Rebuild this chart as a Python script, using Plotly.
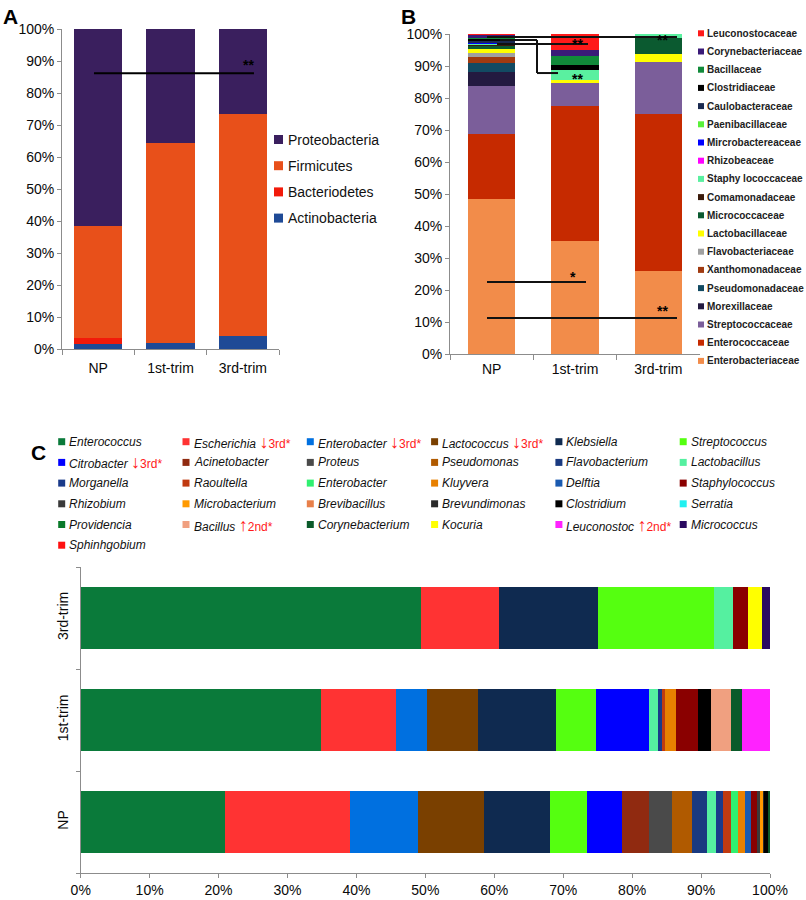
import plotly.graph_objects as go

W, H = 806, 900
FONT = "Arial, Liberation Sans, Helvetica, sans-serif"

# ---------------- Panel A : phyla ----------------
samples_ab = ["NP", "1st-trim", "3rd-trim"]
phyla = ["Actinobacteria", "Bacteriodetes", "Firmicutes", "Proteobacteria"]
phyla_colors = ["#1F4A96", "#F21A0A", "#E8501A", "#3A1F5E"]
actinobacteria = [1.5, 1.8, 4.1]
bacteriodetes = [2.0, 0.0, 0.0]
firmicutes = [35.0, 62.7, 69.4]
proteobacteria = [61.5, 35.5, 26.5]

# ---------------- Panel B : families ----------------
families = ["Enterobacteriaceae", "Enterococcaceae", "Streptococcaceae", "Morexillaceae",
            "Pseudomonadaceae", "Xanthomonadaceae", "Flavobacteriaceae", "Lactobacillaceae",
            "Micrococcaceae", "Comamonadaceae", "Staphy lococcaceae", "Rhizobeaceae",
            "Mircrobactereaceae", "Paenibacillaceae", "Caulobacteraceae", "Clostridiaceae",
            "Bacillaceae", "Corynebacteriaceae", "Leuconostocaceae"]
family_colors = ["#F28C4A", "#C62A00", "#7B5E9A", "#231A40",
                 "#124A62", "#A03A10", "#A0A0A0", "#FFFF00",
                 "#0B5A30", "#3A1A0A", "#5AF0A0", "#FF00FF",
                 "#0000FF", "#5AF03A", "#1A2A50", "#000000",
                 "#118A3A", "#3A1A78", "#FF1A1A"]
fam_np = [48.4, 20.5, 14.7, 4.5, 2.9, 1.8, 1.4, 1.2, 0.7, 0.7, 0.1, 0.0, 0.3, 0.1, 0.5, 0.8, 0.2, 1.0, 0.2]
fam_1st = [35.3, 42.1, 7.2, 0.0, 0.0, 0.0, 0.0, 1.0, 0.0, 0.0, 3.2, 0.0, 0.0, 0.0, 0.0, 1.4, 3.0, 1.8, 5.0]
fam_3rd = [26.0, 48.9, 16.3, 0.0, 0.0, 0.0, 0.0, 2.5, 5.0, 0.0, 1.3, 0.0, 0.0, 0.0, 0.0, 0.0, 0.0, 0.0, 0.0]

# ---------------- Panel C : genera ----------------
samples_c = ["NP", "1st-trim", "3rd-trim"]
genera = ["Enterococcus", "Escherichia", "Enterobacter", "Lactococcus", "Klebsiella", "Streptococcus",
          "Citrobacter", "Acinetobacter", "Proteus", "Pseudomonas", "Flavobacterium", "Lactobacillus",
          "Morganella", "Raoultella", "Enterobacter", "Kluyvera", "Delftia", "Staphylococcus",
          "Rhizobium", "Microbacterium", "Brevibacillus", "Brevundimonas", "Clostridium", "Serratia",
          "Providencia", "Bacillus", "Corynebacterium", "Kocuria", "Leuconostoc", "Micrococcus",
          "Sphinhgobium"]
genus_trend_arrow = ["", "↓", "↓", "↓", "", "",
                     "↓", "", "", "", "", "",
                     "", "", "", "", "", "",
                     "", "", "", "", "", "",
                     "", "↑", "", "", "↑", "",
                     ""]
genus_trend_label = ["", "3rd*", "3rd*", "3rd*", "", "",
                     "3rd*", "", "", "", "", "",
                     "", "", "", "", "", "",
                     "", "", "", "", "", "",
                     "", "2nd*", "", "", "2nd*", "",
                     ""]
genus_colors = ["#0A7A3A", "#FF3333", "#0070E0", "#7A4000", "#0F2A50", "#55FF10",
                "#0000FF", "#902A10", "#4A4A4A", "#B05A00", "#1A3A80", "#55F0A0",
                "#1A3A8A", "#C03A10", "#30F070", "#E88000", "#1A5AB0", "#8A0000",
                "#3A3A3A", "#FF9A00", "#E8804A", "#2A2A2A", "#000000", "#20F0F0",
                "#0A7A2A", "#F0A080", "#0A5A2A", "#FFFF00", "#FF22FF", "#2A0A60",
                "#FF1010"]
gen_np = [20.9, 18.1, 9.9, 9.6, 9.6, 5.4, 5.0, 3.9, 3.4, 2.9, 2.1, 1.3,
          1.1, 1.1, 1.0, 1.0, 0.9, 0.9, 0.4, 0.5, 0.0, 0.2, 0.5, 0.0,
          0.1, 0.0, 0.2, 0.0, 0.0, 0.0, 0.0]
gen_1st = [34.8, 11.0, 4.4, 7.5, 11.2, 5.8, 7.8, 0.0, 0.0, 0.0, 0.0, 1.2,
           0.7, 0.4, 0.0, 1.6, 0.0, 3.2, 0.0, 0.0, 0.0, 0.0, 1.9, 0.0,
           0.0, 2.9, 1.5, 0.0, 4.1, 0.0, 0.0]
gen_3rd = [49.3, 11.4, 0.0, 0.0, 14.3, 16.9, 0.0, 0.0, 0.0, 0.0, 0.0, 2.7,
           0.0, 0.0, 0.0, 0.0, 0.0, 2.2, 0.0, 0.0, 0.0, 0.0, 0.0, 0.0,
           0.0, 0.0, 0.0, 2.0, 0.0, 1.2, 0.0]

pct_vals = list(range(0, 101, 10))
pct_text = [f"{v}%" for v in pct_vals]


def fx(p):
    return p / W


def fy(p):
    return 1 - p / H


fig = go.Figure()

for name, color, vals in zip(phyla, phyla_colors,
                             [actinobacteria, bacteriodetes, firmicutes, proteobacteria]):
    fig.add_trace(go.Bar(x=samples_ab, y=vals, name=name, width=0.67,
                         marker=dict(color=color, line=dict(width=0)),
                         xaxis="x", yaxis="y", showlegend=False))

for name, color, a, b, c in zip(families, family_colors, fam_np, fam_1st, fam_3rd):
    fig.add_trace(go.Bar(x=samples_ab, y=[a, b, c], name=name, width=0.57,
                         marker=dict(color=color, line=dict(width=0)),
                         xaxis="x2", yaxis="y2", showlegend=False))

for name, color, a, b, c in zip(genera, genus_colors, gen_np, gen_1st, gen_3rd):
    fig.add_trace(go.Bar(y=samples_c, x=[a, b, c], name=name, orientation="h", width=0.6,
                         marker=dict(color=color, line=dict(width=0)),
                         xaxis="x3", yaxis="y3", showlegend=False))


def axis(**kw):
    base = dict(showline=True, linecolor="#8c8c8c", linewidth=1, ticks="outside",
                tickcolor="#8c8c8c", ticklen=4, showgrid=False, zeroline=False,
                automargin=False,
                tickfont=dict(family=FONT, size=14, color="#0a0a0a"))
    base.update(kw)
    return base


fig.update_layout(
    template="none",
    width=W, height=H, autosize=False,
    margin=dict(l=0, r=0, t=0, b=0, pad=0),
    paper_bgcolor="white", plot_bgcolor="white",
    barmode="stack",
    showlegend=False,
    font=dict(family=FONT, color="#111111"),
    xaxis=axis(domain=[fx(62), fx(279)], anchor="y", type="category", range=[-0.5, 2.5],
               tickson="boundaries", ticklen=5, ticklabelstandoff=6),
    yaxis=axis(domain=[fy(349), fy(29)], anchor="x", range=[0, 100],
               tickvals=pct_vals, ticktext=pct_text),
    xaxis2=axis(domain=[fx(450), fx(700)], anchor="y2", type="category", range=[-0.5, 2.5],
                tickson="boundaries", ticklen=5, ticklabelstandoff=2),
    yaxis2=axis(domain=[fy(354), fy(34)], anchor="x2", range=[0, 100],
                tickvals=pct_vals, ticktext=pct_text),
    xaxis3=axis(domain=[fx(80.7), fx(770)], anchor="y3", range=[0, 100],
                tickvals=pct_vals, ticktext=pct_text),
    yaxis3=axis(domain=[fy(873), fy(567)], anchor="x3", type="category",
                categoryorder="array", categoryarray=samples_c, range=[-0.5, 2.5],
                tickson="boundaries", tickangle=-90, ticklabelstandoff=6),
)

shapes = []
annotations = []

# significance marks, panel A
shapes.append(dict(type="line", xref="x", yref="y", x0=-0.058, x1=2.154, y0=86.2, y1=86.2,
                   line=dict(color="black", width=2)))
annotations.append(dict(xref="x", yref="y", x=2.085, y=88.8, text="<b>**</b>", showarrow=False,
                        font=dict(size=14, color="black")))

# significance marks, panel B
sig_lines_b = [
    ([-0.056, 2.224], [99.06, 99.06]),
    ([0.1, 0.544, 0.544, 0.796], [98.1, 98.1, 87.8, 87.8]),
    ([0.064, 1.156], [96.9, 96.9]),
    ([-0.056, 1.132], [22.5, 22.5]),
    ([-0.056, 2.224], [11.25, 11.25]),
]
for xs, ys in sig_lines_b:
    for i in range(len(xs) - 1):
        shapes.append(dict(type="line", xref="x2", yref="y2", x0=xs[i], x1=xs[i + 1],
                           y0=ys[i], y1=ys[i + 1], line=dict(color="#111111", width=2)))
for x, y, t in [(2.044, 98.0, "**"), (1.024, 96.8, "**"), (1.024, 86.0, "**"),
                (0.976, 24.0, "*"), (2.044, 13.5, "**")]:
    annotations.append(dict(xref="x2", yref="y2", x=x, y=y, text=f"<b>{t}</b>", showarrow=False,
                            font=dict(size=14, color="black")))

# legend A
for k, (name, color) in enumerate(zip(phyla[::-1], phyla_colors[::-1])):
    cx, cy = 278.5, 139.5 + 26.2 * k
    shapes.append(dict(type="rect", xref="paper", yref="paper", x0=fx(cx - 4.5), x1=fx(cx + 4.5),
                       y0=fy(cy + 4.5), y1=fy(cy - 4.5), fillcolor=color, line=dict(width=0)))
    annotations.append(dict(xref="paper", yref="paper", x=fx(286), y=fy(cy), xanchor="left",
                            yanchor="middle", text=name, showarrow=False,
                            font=dict(size=14, color="#111111")))

# legend B
for k, (name, color) in enumerate(zip(families[::-1], family_colors[::-1])):
    cx, cy = 701, 33.3 + 18.2 * k
    shapes.append(dict(type="rect", xref="paper", yref="paper", x0=fx(cx - 3), x1=fx(cx + 3),
                       y0=fy(cy + 3), y1=fy(cy - 3), fillcolor=color, line=dict(width=0)))
    annotations.append(dict(xref="paper", yref="paper", x=fx(705), y=fy(cy), xanchor="left",
                            yanchor="middle", text=f"<b>{name}</b>", showarrow=False,
                            font=dict(size=10, color="#222222")))

# legend C
for i, (name, color, arrow, tlabel) in enumerate(zip(genera, genus_colors,
                                                     genus_trend_arrow, genus_trend_label)):
    row, col = divmod(i, 6)
    cx, cy = 61.7 + 124.3 * col, 441.7 + 20.7 * row
    shapes.append(dict(type="rect", xref="paper", yref="paper", x0=fx(cx - 3.5), x1=fx(cx + 3.5),
                       y0=fy(cy + 3.5), y1=fy(cy - 3.5), fillcolor=color, line=dict(width=0)))
    label = f"<i>{name}</i>"
    if arrow:
        label += (f" <span style='color:#FF1A1A;font-size:18px'>{arrow}</span>"
                  f"<span style='color:#FF1A1A'>{tlabel}</span>")
    annotations.append(dict(xref="paper", yref="paper", x=fx(cx + 5.5), y=fy(cy), xanchor="left",
                            yanchor="middle", text=label, showarrow=False,
                            font=dict(size=12, color="#111111")))

# panel letters
for letter, x, y in [("A", 1, 17), ("B", 399, 17), ("C", 29, 453)]:
    annotations.append(dict(xref="paper", yref="paper", x=fx(x), y=fy(y), xanchor="left",
                            yanchor="middle", text=f"<b>{letter}</b>", showarrow=False,
                            font=dict(size=21, color="black")))

fig.update_layout(shapes=shapes, annotations=annotations)
fig.write_html("out.html", config={"displayModeBar": False},
               post_script="document.body.style.margin='0px';document.body.style.overflow='hidden';")
